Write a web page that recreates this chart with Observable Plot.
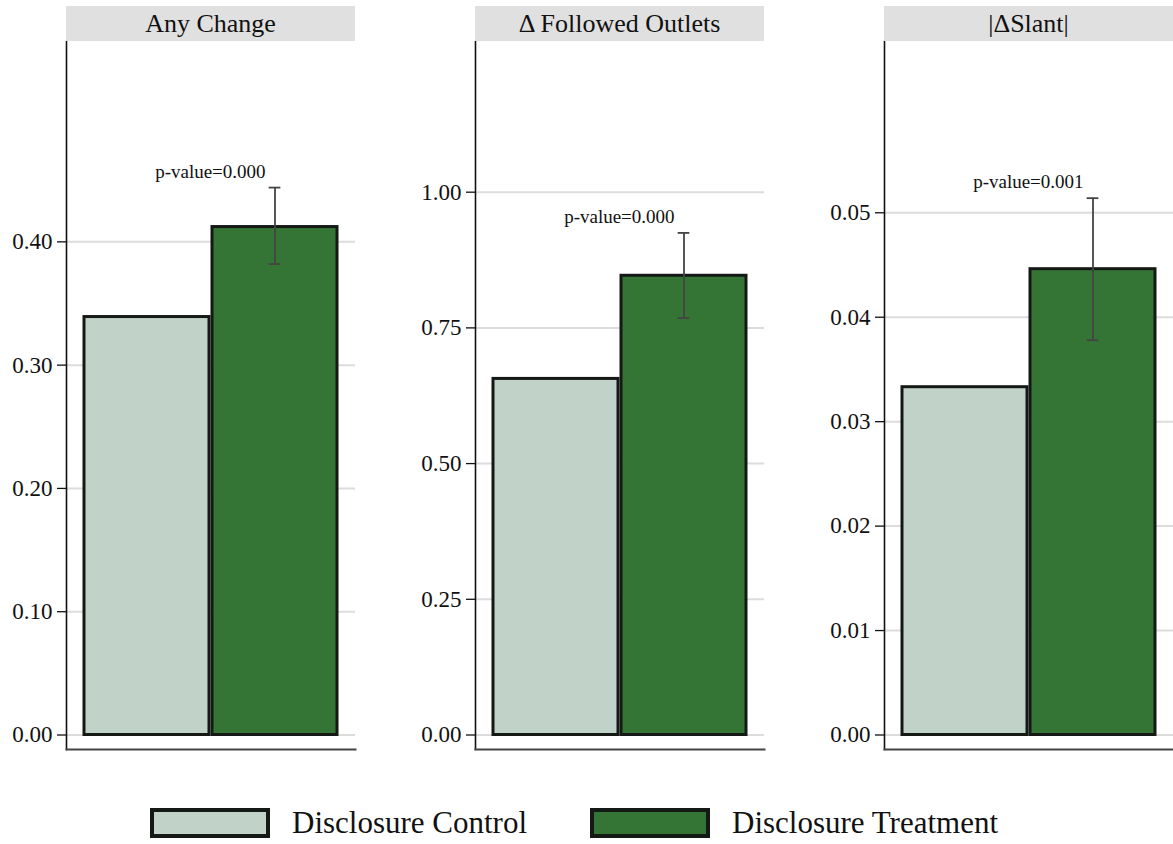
<!DOCTYPE html>
<html><head><meta charset="utf-8">
<script src="https://cdn.jsdelivr.net/npm/d3@7"></script>
<script src="https://cdn.jsdelivr.net/npm/@observablehq/plot@0.6"></script>
<style>
body{margin:0;background:#fff;font-family:"Liberation Serif","Times New Roman",serif;color:#111;}
#wrap{position:relative;width:1173px;height:844px;overflow:hidden;}
.panel{position:absolute;top:0;}
.title{position:absolute;top:6px;height:35px;background:#e0e0e0;text-align:center;font-family:"Liberation Serif","Times New Roman",serif;font-size:26px;line-height:36px;color:#111;white-space:nowrap;}
.legend{position:absolute;top:808px;display:flex;align-items:center;}
.sw{box-sizing:border-box;width:120px;height:30px;border:4px solid #151915;}
.lt{font-family:"Liberation Serif","Times New Roman",serif;font-size:31px;margin-left:22px;line-height:30px;color:#111;}
</style></head>
<body><div id="wrap"></div>
<script>
// ---- data ----
const groups = ["Disclosure Control", "Disclosure Treatment"];
const panelTitles = ["Any Change", "\u0394 Followed Outlets", "|\u0394Slant|"];
const controlMeans = [0.339, 0.656, 0.0333];
const treatmentMeans = [0.412, 0.846, 0.0446];
const ciLow = [0.382, 0.768, 0.0378];
const ciHigh = [0.444, 0.925, 0.0514];
const pValues = ["0.000", "0.000", "0.001"];
const yTicks = [
  [0, 0.1, 0.2, 0.3, 0.4],
  [0, 0.25, 0.5, 0.75, 1.0],
  [0, 0.01, 0.02, 0.03, 0.04, 0.05]
];
const yMax = [0.5625, 1.2776, 0.0664];
const colors = ["#c1d2c8", "#347535"];

// ---- layout ----
const serif = "'Liberation Serif', 'Times New Roman', serif";
const panelLeft = [0, 400, 800];
const panelMarginLeft = [66, 75, 84];
const panelWidth = [355, 364, 373];
const H = 760, top0 = 41, zeroY = 734.5, bottomLine = 749;

const wrap = document.getElementById("wrap");

panelTitles.forEach((title, i) => {
  const rows = groups.map((g, j) => ({
    group: g,
    value: j === 0 ? controlMeans[i] : treatmentMeans[i],
    lo: ciLow[i], hi: ciHigh[i], p: pValues[i]
  }));
  const treat = rows.filter(d => d.group === groups[1]);
  const ml = panelMarginLeft[i], W = panelWidth[i];
  const xr = [ml + 17.5, W - 17.5];
  const step = (xr[1] - xr[0]) / (2 - 0.027);
  const bw = step * (1 - 0.027);

  const chart = Plot.plot({
    width: W, height: H,
    marginLeft: ml, marginRight: 0, marginTop: top0, marginBottom: H - bottomLine,
    style: {fontFamily: serif, color: "#111", background: "transparent", overflow: "visible"},
    x: {domain: groups, range: xr, paddingInner: 0.027, paddingOuter: 0, axis: null},
    y: {domain: [0, yMax[i]], range: [zeroY, top0], axis: null},
    color: {domain: groups, range: colors},
    marks: [
      Plot.gridY(yTicks[i], {stroke: "#dcdcdc", strokeOpacity: 1, strokeWidth: 2}),
      Plot.axisY(yTicks[i], {tickFormat: d3.format(".2f"), tickSize: 9, tickPadding: 5, fontSize: 23, fontFamily: serif, stroke: "#111", strokeWidth: 1.3}),
      Plot.barY(rows, {x: "group", y: "value", fill: "group", stroke: "#151915", strokeWidth: 3}),
      Plot.ruleX(treat, {x: "group", y1: "lo", y2: "hi", stroke: "#444", strokeWidth: 1.8}),
      Plot.tickY(treat, {x: "group", y: "lo", stroke: "#444", strokeWidth: 1.8, insetLeft: (bw - 12) / 2, insetRight: (bw - 12) / 2}),
      Plot.tickY(treat, {x: "group", y: "hi", stroke: "#444", strokeWidth: 1.8, insetLeft: (bw - 12) / 2, insetRight: (bw - 12) / 2}),
      Plot.text(treat, {x: "group", y: "hi", text: d => `p-value=${d.p}`, dx: -(bw / 2 + 2), dy: -16, fontSize: 19, fontFamily: serif, fill: "#111"}),
      Plot.frame({anchor: "left", stroke: "#111", strokeWidth: 1.6}),
      Plot.frame({anchor: "bottom", stroke: "#444", strokeWidth: 2})
    ]
  });
  const div = document.createElement("div");
  div.className = "panel";
  div.style.left = panelLeft[i] + "px";
  div.appendChild(chart);
  wrap.appendChild(div);

  const t = document.createElement("div");
  t.className = "title";
  t.style.left = (panelLeft[i] + ml) + "px";
  t.style.width = (W - ml) + "px";
  t.textContent = title;
  wrap.appendChild(t);
});

const legendLeft = [150, 590];
groups.forEach((g, j) => {
  const l = document.createElement("div");
  l.className = "legend";
  l.style.left = legendLeft[j] + "px";
  const s = document.createElement("div");
  s.className = "sw";
  s.style.background = colors[j];
  const tx = document.createElement("span");
  tx.className = "lt";
  tx.textContent = g;
  l.appendChild(s); l.appendChild(tx);
  wrap.appendChild(l);
});
</script>
</body></html>
